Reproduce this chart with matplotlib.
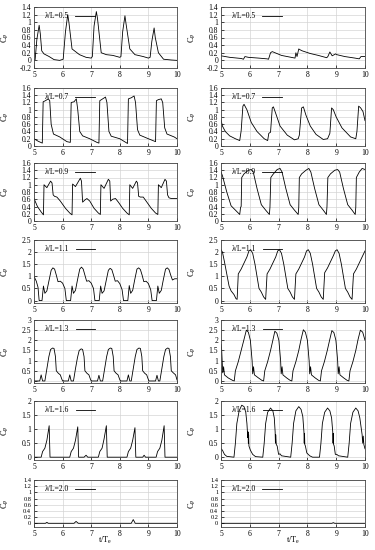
import matplotlib
matplotlib.use('Agg')
from matplotlib import pyplot as plt
from matplotlib.ticker import MultipleLocator, FuncFormatter

# wave length ratios, one row per value
ratios = ["0.5", "0.7", "0.9", "1.1", "1.3", "1.6", "2.0"]

# left column
t_l05 = [5.0, 5.04, 5.1, 5.18, 5.22, 5.27, 5.35, 5.53, 5.7, 5.9, 6.02, 6.1, 6.18, 6.22, 6.33, 6.59, 6.82, 7.0,
         7.04, 7.1, 7.18, 7.22, 7.35, 7.53, 7.76, 8.0, 8.04, 8.1, 8.18, 8.22, 8.35, 8.53, 8.82, 9.0, 9.06, 9.12,
         9.2, 9.24, 9.35, 9.53, 9.8, 10.0]
cp_l05 = [0.0, 0.02, 0.55, 0.92, 0.7, 0.25, 0.17, 0.1, 0.02, 0.0, 0.03, 0.75, 1.2, 1.0, 0.3, 0.15, 0.08, 0.06,
          0.1, 0.9, 1.28, 1.1, 0.2, 0.15, 0.13, 0.08, 0.1, 0.75, 1.17, 0.95, 0.3, 0.15, 0.1, 0.06, 0.08, 0.5,
          0.85, 0.6, 0.2, 0.03, 0.01, 0.0]

t_l07 = [5.0, 5.15, 5.29, 5.32, 5.4, 5.5, 5.55, 5.6, 5.68, 5.9, 6.15, 6.27, 6.3, 6.4, 6.48, 6.53, 6.6, 6.7,
         6.95, 7.2, 7.27, 7.3, 7.4, 7.5, 7.55, 7.62, 7.7, 8.0, 8.27, 8.3, 8.4, 8.5, 8.55, 8.62, 8.7, 9.0, 9.25,
         9.28, 9.35, 9.45, 9.5, 9.57, 9.65, 9.9, 10.0]
cp_l07 = [0.2, 0.13, 0.08, 1.22, 1.25, 1.3, 1.25, 0.6, 0.33, 0.25, 0.12, 0.1, 1.2, 1.22, 1.3, 1.0, 0.4, 0.28,
          0.2, 0.1, 0.08, 1.25, 1.3, 1.35, 1.2, 0.4, 0.27, 0.2, 0.07, 1.3, 1.33, 1.38, 1.2, 0.45, 0.3, 0.2, 0.12,
          1.25, 1.28, 1.3, 1.2, 0.5, 0.33, 0.25, 0.2]

t_l09 = [5.0, 5.12, 5.25, 5.33, 5.35, 5.45, 5.58, 5.63, 5.67, 5.72, 5.8, 5.92, 6.1, 6.25, 6.33, 6.35, 6.45,
         6.62, 6.66, 6.7, 6.78, 6.85, 6.95, 7.1, 7.25, 7.32, 7.34, 7.45, 7.6, 7.65, 7.68, 7.75, 7.85, 7.95, 8.1,
         8.25, 8.33, 8.35, 8.45, 8.58, 8.62, 8.66, 8.72, 8.82, 8.92, 9.1, 9.25, 9.33, 9.35, 9.45, 9.58, 9.63,
         9.67, 9.72, 9.8, 10.0]
cp_l09 = [0.62, 0.4, 0.25, 0.17, 1.0, 0.92, 1.1, 1.05, 0.72, 0.68, 0.66, 0.55, 0.35, 0.22, 0.17, 1.02, 0.95,
          1.18, 1.1, 0.52, 0.58, 0.62, 0.55, 0.35, 0.22, 0.18, 1.0, 0.9, 1.15, 1.1, 0.55, 0.6, 0.62, 0.52, 0.35,
          0.22, 0.17, 1.0, 0.9, 1.1, 1.05, 0.68, 0.66, 0.66, 0.55, 0.35, 0.22, 0.18, 1.0, 0.92, 1.15, 1.1,
          0.72, 0.64, 0.62, 0.62]

t_l11 = [5.0, 5.08, 5.14, 5.18, 5.28, 5.33, 5.38, 5.45, 5.52, 5.6, 5.66, 5.72, 5.78, 5.84, 5.92, 6.0, 6.08,
         6.13, 6.28, 6.33, 6.38, 6.45, 6.52, 6.6, 6.66, 6.72, 6.78, 6.84, 6.92, 7.0, 7.08, 7.13, 7.28, 7.33,
         7.38, 7.45, 7.52, 7.6, 7.66, 7.72, 7.78, 7.84, 7.92, 8.0, 8.08, 8.13, 8.28, 8.33, 8.38, 8.45, 8.52,
         8.6, 8.66, 8.72, 8.78, 8.84, 8.92, 9.0, 9.08, 9.13, 9.28, 9.33, 9.38, 9.45, 9.52, 9.6, 9.66, 9.72,
         9.78, 9.84, 9.92, 10.0]
cp_l11 = [1.0, 0.8, 0.55, 0.0, 0.0, 0.6, 0.3, 0.4, 0.8, 1.25, 1.35, 1.3, 1.05, 0.78, 0.8, 0.72, 0.5,
          0.0, 0.0, 0.6, 0.3, 0.42, 0.85, 1.3, 1.38, 1.3, 1.05, 0.8, 0.82, 0.72, 0.5, 0.0, 0.0, 0.6,
          0.3, 0.4, 0.8, 1.25, 1.33, 1.28, 1.05, 0.8, 0.82, 0.7, 0.45, 0.0, 0.0, 0.62, 0.3, 0.42, 0.85,
          1.3, 1.35, 1.28, 1.05, 0.78, 0.8, 0.7, 0.45, 0.0, 0.0, 0.6, 0.3, 0.42, 0.85, 1.3, 1.35, 1.28,
          1.05, 0.85, 0.9, 0.9]

t_l13 = [5.0, 5.2, 5.25, 5.3, 5.38, 5.45, 5.52, 5.58, 5.65, 5.7, 5.75, 5.78, 5.85, 5.92, 5.97, 6.0, 6.2,
         6.25, 6.3, 6.38, 6.45, 6.52, 6.58, 6.65, 6.7, 6.75, 6.78, 6.85, 6.92, 6.97, 7.0, 7.22, 7.27, 7.32,
         7.4, 7.47, 7.54, 7.6, 7.67, 7.72, 7.77, 7.8, 7.87, 7.94, 7.99, 8.02, 8.25, 8.3, 8.35, 8.4, 8.47, 8.54,
         8.6, 8.67, 8.72, 8.77, 8.8, 8.87, 8.94, 8.99, 9.02, 9.25, 9.3, 9.35, 9.4, 9.47, 9.54, 9.6, 9.67, 9.72,
         9.77, 9.8, 9.87, 9.95, 10.0]
cp_l13 = [0.0, 0.0, 0.3, 0.0, 0.0, 0.6, 1.2, 1.55, 1.62, 1.6, 1.2, 0.5, 0.38, 0.3, 0.1, 0.0, 0.0,
          0.3, 0.0, 0.0, 0.6, 1.15, 1.5, 1.58, 1.55, 1.2, 0.5, 0.38, 0.3, 0.1, 0.0, 0.0, 0.28, 0.0,
          0.0, 0.6, 1.2, 1.55, 1.62, 1.6, 1.2, 0.5, 0.38, 0.3, 0.1, 0.0, 0.0, 0.3, 0.0, 0.0, 0.6, 1.2,
          1.55, 1.62, 1.6, 1.2, 0.5, 0.38, 0.3, 0.1, 0.0, 0.0, 0.28, 0.0, 0.0, 0.6, 1.2, 1.55, 1.62, 1.6,
          1.2, 0.5, 0.4, 0.3, 0.05]

t_l16 = [5.0, 5.25, 5.3, 5.38, 5.45, 5.53, 5.56, 6.25, 6.3, 6.38, 6.45, 6.53, 6.56, 6.75, 6.82, 6.88, 7.25,
         7.3, 7.38, 7.45, 7.53, 7.56, 8.25, 8.3, 8.38, 8.45, 8.53, 8.56, 8.8, 8.85, 8.9, 9.27, 9.32, 9.4, 9.47,
         9.55, 9.58, 10.0]
cp_l16 = [0.0, 0.0, 0.2, 0.32, 0.6, 1.12, 0.0, 0.0, 0.2, 0.32, 0.6, 1.08, 0.0, 0.0, 0.07, 0.0, 0.0,
          0.2, 0.32, 0.65, 1.12, 0.0, 0.0, 0.2, 0.32, 0.6, 1.05, 0.0, 0.0, 0.07, 0.0, 0.0, 0.2, 0.32, 0.6,
          1.12, 0.0, 0.0]

t_l20 = [5.0, 5.4, 5.45, 5.5, 6.4, 6.47, 6.55, 8.4, 8.47, 8.54, 10.0]
cp_l20 = [0.0, 0.0, 0.03, 0.0, 0.0, 0.06, 0.0, 0.0, 0.12, 0.0, 0.0]

# right column
t_r05 = [5.0, 5.3, 5.7, 5.78, 5.83, 5.95, 6.3, 6.6, 6.65, 6.72, 6.78, 7.1, 7.3, 7.57, 7.6, 7.64, 7.7, 7.74,
         7.82, 8.1, 8.38, 8.67, 8.71, 8.78, 8.86, 8.98, 9.02, 9.3, 9.65, 9.8, 9.86, 10.0]
cp_r05 = [0.12, 0.08, 0.05, 0.03, 0.1, 0.08, 0.06, 0.04, 0.03, 0.2, 0.23, 0.13, 0.1, 0.06, 0.2, 0.1, 0.3,
          0.28, 0.25, 0.18, 0.13, 0.07, 0.1, 0.22, 0.12, 0.17, 0.15, 0.1, 0.06, 0.04, 0.1, 0.1]

t_r07 = [5.0, 5.05, 5.15, 5.3, 5.5, 5.65, 5.7, 5.76, 5.8, 5.9, 6.05, 6.25, 6.5, 6.62, 6.66, 6.72, 6.78,
         6.82, 6.9, 7.05, 7.3, 7.55, 7.68, 7.72, 7.8, 7.86, 7.95, 8.1, 8.3, 8.55, 8.7, 8.78, 8.84, 8.9, 9.0,
         9.2, 9.5, 9.68, 9.72, 9.78, 9.85, 9.93, 10.0]
cp_r07 = [0.72, 0.55, 0.4, 0.28, 0.2, 0.15, 0.42, 1.1, 1.15, 1.0, 0.65, 0.4, 0.2, 0.15, 0.35, 0.38, 1.05,
          1.08, 0.9, 0.55, 0.3, 0.17, 0.2, 0.3, 1.05, 1.08, 0.85, 0.55, 0.32, 0.18, 0.2, 0.35, 1.05, 1.0, 0.8,
          0.5, 0.25, 0.2, 0.4, 1.1, 1.05, 0.95, 0.7]

t_r09 = [5.0, 5.05, 5.2, 5.35, 5.5, 5.65, 5.68, 5.7, 5.72, 5.8, 5.95, 6.05, 6.12, 6.25, 6.4, 6.55, 6.68,
         6.7, 6.73, 6.8, 6.95, 7.05, 7.12, 7.25, 7.4, 7.55, 7.68, 7.7, 7.72, 7.8, 7.95, 8.05, 8.12, 8.25, 8.4,
         8.55, 8.66, 8.68, 8.71, 8.8, 8.95, 9.05, 9.12, 9.25, 9.4, 9.55, 9.66, 9.68, 9.7, 9.8, 9.9, 10.0]
cp_r09 = [1.35, 1.25, 0.8, 0.42, 0.3, 0.18, 0.38, 0.4, 1.2, 1.3, 1.4, 1.42, 1.35, 0.9, 0.45, 0.3, 0.18,
          0.38, 1.2, 1.28, 1.42, 1.45, 1.35, 0.9, 0.45, 0.3, 0.18, 0.38, 1.2, 1.3, 1.4, 1.45, 1.35, 0.9, 0.45,
          0.3, 0.18, 0.4, 1.2, 1.3, 1.4, 1.42, 1.35, 0.9, 0.45, 0.3, 0.18, 0.38, 1.2, 1.35, 1.45, 1.42]

t_r11 = [5.0, 5.05, 5.12, 5.2, 5.28, 5.35, 5.45, 5.52, 5.56, 5.6, 5.7, 5.8, 5.9, 5.97, 6.03, 6.1, 6.18,
         6.25, 6.32, 6.4, 6.48, 6.55, 6.6, 6.7, 6.8, 6.9, 6.97, 7.03, 7.1, 7.18, 7.25, 7.32, 7.4, 7.48, 7.55,
         7.6, 7.7, 7.8, 7.9, 7.97, 8.03, 8.1, 8.18, 8.25, 8.32, 8.4, 8.48, 8.55, 8.6, 8.7, 8.8, 8.9, 8.97,
         9.03, 9.1, 9.18, 9.25, 9.32, 9.4, 9.48, 9.55, 9.6, 9.7, 9.8, 9.9, 10.0]
cp_r11 = [2.1, 2.0, 1.6, 1.1, 0.6, 0.4, 0.25, 0.08, 0.05, 1.1, 1.3, 1.55, 1.8, 2.05, 2.1, 1.95, 1.5,
          1.0, 0.5, 0.35, 0.15, 0.05, 1.1, 1.3, 1.55, 1.8, 2.05, 2.1, 1.95, 1.5, 1.0, 0.5, 0.35, 0.15, 0.05,
          1.1, 1.3, 1.55, 1.8, 2.05, 2.1, 1.95, 1.5, 1.0, 0.5, 0.35, 0.15, 0.05, 1.15, 1.35, 1.6, 1.85, 2.05,
          2.1, 1.95, 1.5, 1.0, 0.5, 0.35, 0.15, 0.05, 1.1, 1.3, 1.55, 1.8, 2.05]

t_r13 = [5.0, 5.02, 5.06, 5.09, 5.12, 5.25, 5.4, 5.46, 5.5, 5.6, 5.7, 5.8, 5.88, 5.95, 6.02, 6.08, 6.1,
         6.13, 6.16, 6.3, 6.42, 6.48, 6.52, 6.62, 6.72, 6.8, 6.87, 6.94, 7.01, 7.07, 7.09, 7.12, 7.15, 7.28,
         7.4, 7.46, 7.5, 7.6, 7.7, 7.78, 7.86, 7.93, 8.0, 8.06, 8.08, 8.11, 8.14, 8.27, 8.39, 8.45, 8.49,
         8.59, 8.69, 8.77, 8.85, 8.92, 8.99, 9.05, 9.07, 9.1, 9.13, 9.26, 9.38, 9.44, 9.48, 9.58, 9.68,
         9.76, 9.84, 9.92, 10.0]
cp_r13 = [1.8, 1.6, 0.4, 0.7, 0.3, 0.15, 0.03, 0.0, 0.5, 0.95, 1.5, 2.05, 2.5, 2.4, 2.0, 1.0, 0.35,
          0.7, 0.3, 0.15, 0.03, 0.0, 0.5, 0.95, 1.5, 2.0, 2.45, 2.35, 2.0, 1.0, 0.35, 0.7, 0.3, 0.15,
          0.03, 0.0, 0.5, 0.95, 1.5, 2.05, 2.52, 2.4, 2.0, 1.0, 0.35, 0.7, 0.3, 0.15, 0.03, 0.0, 0.5,
          0.95, 1.5, 2.0, 2.48, 2.38, 2.0, 1.0, 0.35, 0.7, 0.3, 0.15, 0.03, 0.0, 0.5, 0.95, 1.5,
          2.05, 2.5, 2.4, 2.0]

t_r16 = [5.0, 5.05, 5.12, 5.2, 5.45, 5.5, 5.55, 5.63, 5.72, 5.8, 5.86, 5.9, 5.93, 5.94, 5.95, 5.96, 5.97,
         6.02, 6.1, 6.2, 6.45, 6.5, 6.55, 6.62, 6.72, 6.8, 6.85, 6.88, 6.89, 6.9, 6.92, 6.95, 7.0, 7.05, 7.1,
         7.42, 7.47, 7.52, 7.6, 7.7, 7.78, 7.84, 7.88, 7.89, 7.9, 7.91, 7.93, 7.98, 8.08, 8.18, 8.42, 8.47,
         8.52, 8.6, 8.7, 8.78, 8.84, 8.88, 8.89, 8.9, 8.91, 8.93, 8.97, 9.02, 9.08, 9.4, 9.45, 9.5, 9.58,
         9.68, 9.76, 9.82, 9.86, 9.9, 9.92, 9.94, 9.96, 10.0]
cp_r16 = [0.3, 0.25, 0.1, 0.03, 0.0, 0.5, 1.2, 1.65, 1.85, 1.8, 1.6, 1.2, 0.7, 0.9, 0.5, 0.8, 0.4,
          0.25, 0.1, 0.02, 0.0, 0.5, 1.2, 1.6, 1.75, 1.65, 1.4, 0.9, 0.5, 0.8, 0.45, 0.4, 0.1, 0.12, 0.05,
          0.0, 0.5, 1.2, 1.65, 1.8, 1.7, 1.45, 0.9, 0.5, 0.85, 0.45, 0.4, 0.15, 0.05, 0.0, 0.0, 0.5,
          1.2, 1.6, 1.75, 1.65, 1.4, 0.9, 0.5, 0.85, 0.45, 0.4, 0.1, 0.1, 0.05, 0.0, 0.5, 1.2, 1.6,
          1.75, 1.65, 1.4, 1.1, 0.8, 0.5, 0.75, 0.45, 0.3]

t_r20 = [5.0, 8.85, 8.9, 8.95, 10.0]
cp_r20 = [0.0, 0.0, 0.02, 0.0, 0.0]

left_series = [(t_l05, cp_l05), (t_l07, cp_l07), (t_l09, cp_l09), (t_l11, cp_l11),
               (t_l13, cp_l13), (t_l16, cp_l16), (t_l20, cp_l20)]
right_series = [(t_r05, cp_r05), (t_r07, cp_r07), (t_r09, cp_r09), (t_r11, cp_r11),
                (t_r13, cp_r13), (t_r16, cp_r16), (t_r20, cp_r20)]

# per-row y range and tick step
ylims = [(-0.2, 1.4), (0, 1.6), (0, 1.6), (-0.1, 2.5), (-0.1, 3.0), (-0.1, 2.0), (-0.12, 1.4)]
ysteps = [0.2, 0.2, 0.2, 0.5, 0.5, 0.5, 0.2]

# panel rows in pixels (top, bottom)
rows_px = [(7, 68), (88, 146), (163, 221), (240, 303), (320, 383), (401, 460), (480, 527)]
cols_px = [(34, 177), (221, 365)]

plt.rcParams['font.family'] = ['Liberation Serif', 'DejaVu Serif']
plt.rcParams['font.size'] = 5.5
plt.rcParams['mathtext.default'] = 'regular'

W, H = 375, 550
fig = plt.figure(figsize=(W / 100, H / 100), dpi=100)

fmt = FuncFormatter(lambda v, p: f"{round(v, 3) + 0.0:g}")

for ci, series in enumerate([left_series, right_series]):
    x0, x1 = cols_px[ci]
    for ri, (t, cp) in enumerate(series):
        top, bot = rows_px[ri]
        ax = fig.add_axes([x0 / W, 1 - bot / H, (x1 - x0) / W, (bot - top) / H])
        ax.plot(t, cp, color='black', lw=0.6, label=f"λ/L={ratios[ri]}")
        ax.set_xlim(5, 10)
        ax.set_ylim(*ylims[ri])
        ax.xaxis.set_major_locator(MultipleLocator(1))
        ax.yaxis.set_major_locator(MultipleLocator(ysteps[ri]))
        ax.yaxis.set_major_formatter(fmt)
        ax.xaxis.set_major_formatter(fmt)
        ax.grid(True, color='#d4d4d4', lw=0.5)
        ax.set_axisbelow(True)
        ax.tick_params(direction='in', length=2, width=0.5, pad=2, labelsize=5.5)
        if ri == len(series) - 1:
            # the last row is short, so its y labels sit very close together
            ax.tick_params(axis='y', labelsize=4.6, pad=2)
        for s in ax.spines.values():
            s.set_linewidth(0.6)
            s.set_color('#444444')
        ax.set_ylabel("C$_P$", fontsize=6)
        ax.yaxis.set_label_coords(-0.16, 0.5)
        ax.legend(loc='upper left', bbox_to_anchor=(0.04, 1.0), frameon=False, markerfirst=False,
                  handlelength=2.6, borderaxespad=0.3, handletextpad=0.8, fontsize=5.5)
    # x axis title under the bottom panel of each column
    fig.text((x0 + x1) / 2 / W, 1 - 540 / H, "t/T$_e$", ha='center', va='center', fontsize=6)

fig.savefig('out.png', dpi=100)
